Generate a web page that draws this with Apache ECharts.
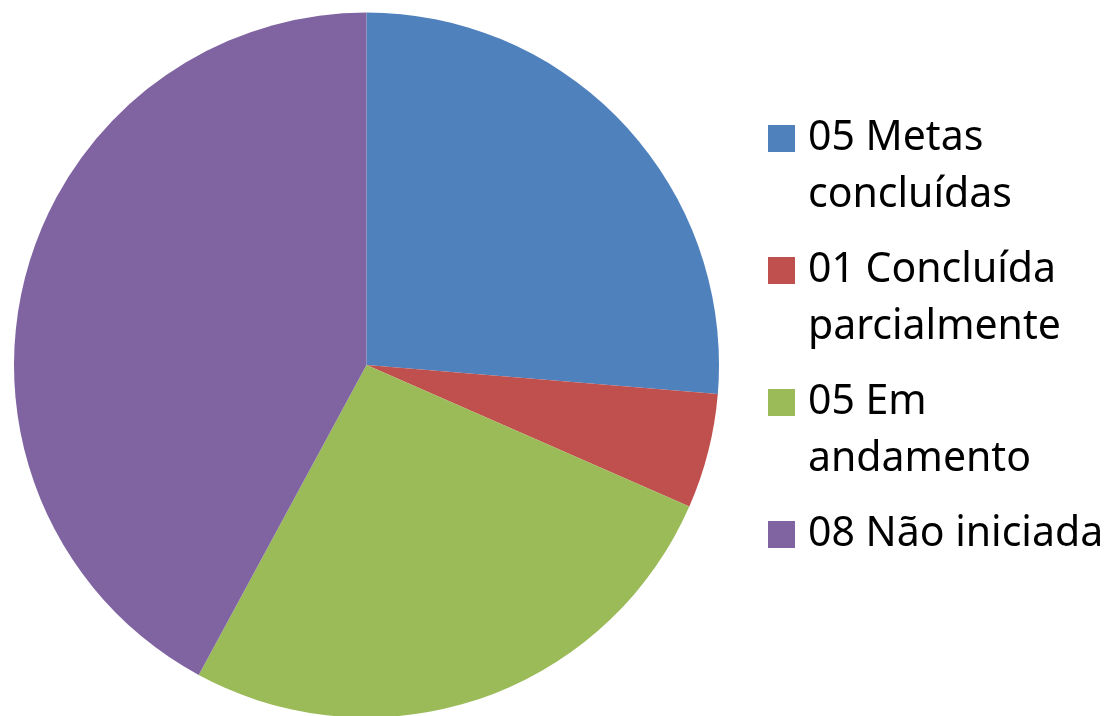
<!DOCTYPE html>
<html>
<head>
<meta charset="utf-8">
<script src="https://cdn.jsdelivr.net/npm/echarts@6/dist/echarts.min.js"></script>
<style>
  html, body { margin: 0; padding: 0; background: #fff; }
  #chart { width: 1107px; height: 716px; }
</style>
</head>
<body>
<div id="chart"></div>
<script>
const FONT = '"Noto Sans", "Open Sans", sans-serif';

// status of the goals — name carries the count, value drives the slice
const categories = ["05 Metas\nconcluídas", "01 Concluída\nparcialmente", "05 Em\nandamento", "08 Não iniciada"];
const values = [5, 1, 5, 8];
const colors = ["#4F81BD", "#C0504D", "#9BBB59", "#8064A2"];

const chart = echarts.init(document.getElementById("chart"), null, { renderer: "canvas" });

// ECharts centres the legend text block on the swatch; a blank line on top
// (and one below for the single-line entry) puts the swatch on line one and
// keeps every entry the same height
function legendText(name) {
  return name.indexOf("\n") >= 0 ? "\n" + name : "\n" + name + "\n";
}

chart.setOption({
  backgroundColor: "#fff",
  animation: false,
  color: colors,
  legend: {
    orient: "vertical",
    left: 768,
    top: 53,
    padding: 0,
    itemGap: -39,
    itemWidth: 27,
    itemHeight: 27,
    icon: "rect",
    selectedMode: false,
    formatter: legendText,
    data: categories,
    textStyle: { color: "#000", fontSize: 41, lineHeight: 57, fontFamily: FONT, padding: [0, 0, 0, 8] },
  },
  series: [
    {
      type: "pie",
      center: [366.5, 365],
      radius: 352.5,
      startAngle: 90,
      clockwise: true,
      silent: true,
      label: { show: false },
      labelLine: { show: false },
      itemStyle: { borderWidth: 0 },
      data: categories.map((name, i) => ({ name, value: values[i] })),
    },
  ],
});
</script>
</body>
</html>
